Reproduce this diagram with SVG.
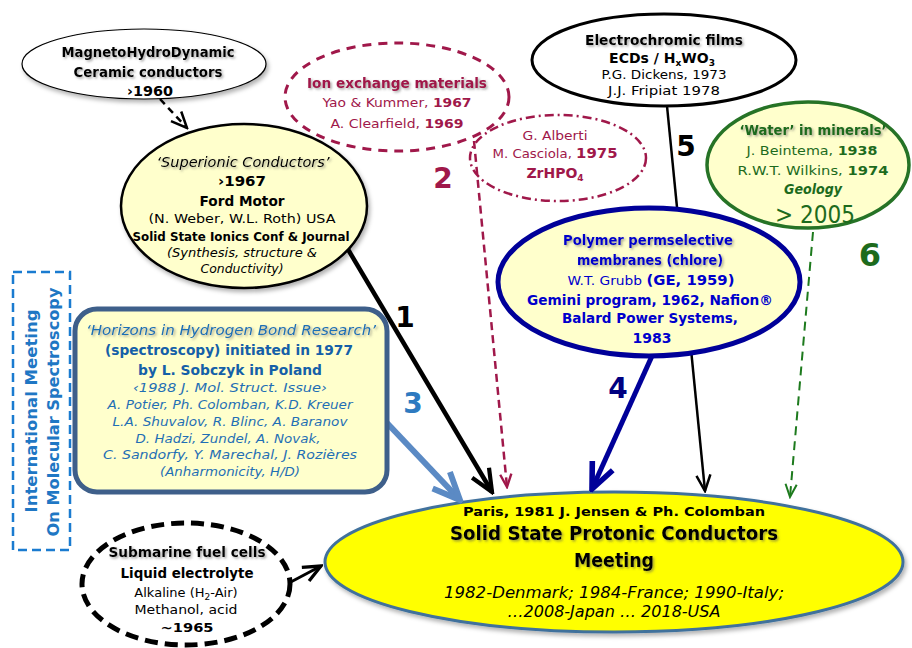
<svg xmlns="http://www.w3.org/2000/svg" width="912" height="648" viewBox="0 0 912 648">
<defs>
<style>
.t{font-family:"DejaVu Sans","Liberation Sans",sans-serif;text-anchor:middle}
.b{font-weight:bold}
.i{font-style:italic}
.sh{filter:url(#ts)}
.k{fill:#000}
.r{fill:#a0184a}
.g{fill:#1d6b1d}
.bl{fill:#0000cc}
.hb{fill:#1f6fb5}
.lbl{font-family:"DejaVu Sans","Liberation Sans",sans-serif;font-weight:bold;text-anchor:middle}
</style>
<filter id="ts" x="-5%" y="-30%" width="115%" height="180%"><feDropShadow dx="1.5" dy="1.5" stdDeviation="1" flood-color="#555" flood-opacity="0.55"/></filter>
<filter id="ds" x="-10%" y="-10%" width="130%" height="140%"><feDropShadow dx="2" dy="3" stdDeviation="2" flood-color="#000" flood-opacity="0.3"/></filter>
<marker id="aK1" viewBox="0 0 20 20" refX="18" refY="10" markerWidth="28" markerHeight="28" markerUnits="userSpaceOnUse" orient="auto"><path d="M2,3 L18,10 L2,17" fill="none" stroke="#000" stroke-width="3"/></marker>
<marker id="aK2" viewBox="0 0 20 20" refX="18" refY="10" markerWidth="20" markerHeight="20" markerUnits="userSpaceOnUse" orient="auto"><path d="M2,3 L18,10 L2,17" fill="none" stroke="#000" stroke-width="2.5"/></marker>
<marker id="aK3" viewBox="0 0 20 20" refX="18" refY="10" markerWidth="22" markerHeight="22" markerUnits="userSpaceOnUse" orient="auto"><path d="M2,3 L18,10 L2,17" fill="none" stroke="#000" stroke-width="3"/></marker>
<marker id="aR" viewBox="0 0 20 20" refX="18" refY="10" markerWidth="16" markerHeight="16" markerUnits="userSpaceOnUse" orient="auto"><path d="M2,3 L18,10 L2,17" fill="none" stroke="#a0184a" stroke-width="3"/></marker>
<marker id="aB" viewBox="0 0 20 20" refX="18" refY="10" markerWidth="32" markerHeight="32" markerUnits="userSpaceOnUse" orient="auto"><path d="M2,3 L18,10 L2,17" fill="none" stroke="#000099" stroke-width="3.5"/></marker>
<marker id="aS" viewBox="0 0 20 20" refX="18" refY="10" markerWidth="34" markerHeight="34" markerUnits="userSpaceOnUse" orient="auto"><path d="M2,3 L18,10 L2,17" fill="none" stroke="#5b8ac4" stroke-width="3.5"/></marker>
<marker id="aG" viewBox="0 0 20 20" refX="18" refY="10" markerWidth="16" markerHeight="16" markerUnits="userSpaceOnUse" orient="auto"><path d="M2,3 L18,10 L2,17" fill="none" stroke="#1d7a1d" stroke-width="2.5"/></marker>
</defs>
<rect width="912" height="648" fill="#fff"/>

<g id="meeting">
<ellipse cx="614" cy="562" rx="289" ry="70" fill="#ffff00" stroke="#41719c" stroke-width="3" filter="url(#ds)"/>
<text class="t b k" x="614" y="516" font-size="13" textLength="302" lengthAdjust="spacingAndGlyphs">Paris, 1981 J. Jensen &amp; Ph. Colomban</text>
<text class="t b k sh" x="614" y="540" font-size="20" textLength="328" lengthAdjust="spacingAndGlyphs">Solid State Protonic Conductors</text>
<text class="t b k sh" x="614" y="567" font-size="20" textLength="80" lengthAdjust="spacingAndGlyphs">Meeting</text>
<text class="t i k" x="614" y="598" font-size="15" textLength="340" lengthAdjust="spacingAndGlyphs">1982-Denmark; 1984-France; 1990-Italy;</text>
<text class="t i k" x="614" y="617" font-size="15" textLength="213" lengthAdjust="spacingAndGlyphs">…2008-Japan … 2018-USA</text>
</g>

<g id="connectors" fill="none">
<line x1="160" y1="99" x2="187" y2="128" stroke="#000" stroke-width="2.5" stroke-dasharray="7 5" marker-end="url(#aK2)"/>
<line x1="346" y1="246" x2="492" y2="492" stroke="#000" stroke-width="4.5" marker-end="url(#aK1)"/>
<line x1="474" y1="141" x2="507" y2="487" stroke="#a0184a" stroke-width="2.5" stroke-dasharray="8 5" marker-end="url(#aR)"/>
<line x1="387" y1="423" x2="460" y2="500" stroke="#5b8ac4" stroke-width="6" marker-end="url(#aS)"/>
<line x1="652" y1="356" x2="592" y2="489" stroke="#000099" stroke-width="5" marker-end="url(#aB)"/>
<line x1="667" y1="106" x2="705" y2="491" stroke="#000" stroke-width="2.5" marker-end="url(#aK2)"/>
<line x1="813" y1="232" x2="790" y2="497" stroke="#1d7a1d" stroke-width="2" stroke-dasharray="9 6" marker-end="url(#aG)"/>
<line x1="287" y1="584" x2="321" y2="566" stroke="#000" stroke-width="3" marker-end="url(#aK3)"/>
</g>

<g id="labels">
<text class="lbl" x="405" y="327" font-size="28" fill="#000">1</text>
<text class="lbl" x="443" y="188" font-size="28" fill="#a0184a">2</text>
<text class="lbl" x="413" y="413" font-size="28" fill="#2e7ac0">3</text>
<text class="lbl" x="618" y="398" font-size="28" fill="#000080">4</text>
<text class="lbl" x="686" y="156" font-size="28" fill="#000">5</text>
<text class="lbl" x="870" y="266" font-size="32" fill="#1d6b1d">6</text>
</g>

<g id="mhd">
<ellipse cx="144" cy="64" rx="122" ry="35" fill="#fff" stroke="#000" stroke-width="1.2" filter="url(#ds)"/>
<text class="t b k sh" x="148" y="57" font-size="14" textLength="173" lengthAdjust="spacingAndGlyphs">MagnetoHydroDynamic</text>
<text class="t b k sh" x="148" y="77" font-size="14" textLength="149" lengthAdjust="spacingAndGlyphs">Ceramic conductors</text>
<text class="t b k" x="150" y="96" font-size="14" textLength="46" lengthAdjust="spacingAndGlyphs">›1960</text>
</g>

<g id="ion-exchange">
<ellipse cx="397" cy="97" rx="112" ry="54" fill="none" stroke="#a0184a" stroke-width="3" stroke-dasharray="9 7"/>
<text class="t b r sh" x="397" y="88" font-size="14" textLength="180" lengthAdjust="spacingAndGlyphs">Ion exchange materials</text>
<text class="t r" x="397" y="107" font-size="13" textLength="149" lengthAdjust="spacingAndGlyphs">Yao &amp; Kummer, <tspan class="b">1967</tspan></text>
<text class="t r" x="397" y="128" font-size="13" textLength="133" lengthAdjust="spacingAndGlyphs">A. Clearfield, <tspan class="b">1969</tspan></text>
</g>

<g id="alberti">
<ellipse cx="558" cy="158" rx="88" ry="43" fill="none" stroke="#a0184a" stroke-width="2.5" stroke-dasharray="9 4 2 4"/>
<text class="t r" x="555" y="140" font-size="12" textLength="65" lengthAdjust="spacingAndGlyphs">G. Alberti</text>
<text class="t r" x="555" y="158" font-size="12.5" textLength="125" lengthAdjust="spacingAndGlyphs">M. Casciola, <tspan class="b" font-size="14">1975</tspan></text>
<text class="t b r" x="555" y="178" font-size="14">ZrHPO<tspan font-size="9" dy="3">4</tspan></text>
</g>

<g id="electrochromic">
<ellipse cx="664" cy="60" rx="132" ry="46" fill="#fff" stroke="#000" stroke-width="3"/>
<text class="t b k sh" x="664" y="45" font-size="14" textLength="158" lengthAdjust="spacingAndGlyphs">Electrochromic films</text>
<text class="t b k" x="662" y="63" font-size="14">ECDs / H<tspan font-size="9" dy="3">x</tspan><tspan dy="-3">WO</tspan><tspan font-size="9" dy="3">3</tspan></text>
<text class="t k" x="664" y="79" font-size="12" textLength="125" lengthAdjust="spacingAndGlyphs">P.G. Dickens, 1973</text>
<text class="t k" x="664" y="95" font-size="12" textLength="112" lengthAdjust="spacingAndGlyphs">J.J. Fripiat 1978</text>
</g>

<g id="water">
<ellipse cx="808" cy="165" rx="101" ry="63" fill="#ffffcc" stroke="#267326" stroke-width="3.5"/>
<text class="t b g sh" x="813" y="135" font-size="14" textLength="147" lengthAdjust="spacingAndGlyphs">‘Water’ in minerals’</text>
<text class="t g" x="812" y="155" font-size="13" textLength="131" lengthAdjust="spacingAndGlyphs">J. Beintema, <tspan class="b">1938</tspan></text>
<text class="t g" x="813" y="175" font-size="12.5" textLength="151" lengthAdjust="spacingAndGlyphs">R.W.T. Wilkins, <tspan class="b">1974</tspan></text>
<text class="t b i g" x="813" y="194" font-size="14" textLength="58" lengthAdjust="spacingAndGlyphs">Geology</text>
<text class="t g" x="815" y="223" font-size="24" textLength="80" lengthAdjust="spacingAndGlyphs">&gt; 2005</text>
</g>

<g id="superionic">
<ellipse cx="244" cy="206" rx="123" ry="82" fill="#ffffcc" stroke="#000" stroke-width="2.5" filter="url(#ds)"/>
<text class="t i k sh" x="243" y="167" font-size="14" textLength="173" lengthAdjust="spacingAndGlyphs">‘Superionic Conductors’</text>
<text class="t b k" x="242" y="186" font-size="14" textLength="48" lengthAdjust="spacingAndGlyphs">›1967</text>
<text class="t b k" x="242" y="206" font-size="14" textLength="85" lengthAdjust="spacingAndGlyphs">Ford Motor</text>
<text class="t k" x="242" y="223" font-size="12.5" textLength="187" lengthAdjust="spacingAndGlyphs">(N. Weber,  W.L. Roth) USA</text>
<text class="t b k" x="241" y="241" font-size="12.5" textLength="217" lengthAdjust="spacingAndGlyphs">Solid State Ionics Conf &amp; Journal</text>
<text class="t i k" x="242" y="257" font-size="12" textLength="150" lengthAdjust="spacingAndGlyphs">(Synthesis, structure &amp;</text>
<text class="t i k" x="242" y="273" font-size="12" textLength="83" lengthAdjust="spacingAndGlyphs">Conductivity)</text>
</g>

<g id="polymer">
<ellipse cx="649" cy="282" rx="151" ry="74" fill="#ffffcc" stroke="#000099" stroke-width="5"/>
<text class="t b bl sh" x="648" y="245" font-size="14" textLength="170" lengthAdjust="spacingAndGlyphs">Polymer permselective</text>
<text class="t b bl sh" x="650" y="265" font-size="14" textLength="146" lengthAdjust="spacingAndGlyphs">membranes (chlore)</text>
<text class="t bl" x="651" y="285" font-size="13" textLength="167" lengthAdjust="spacingAndGlyphs">W.T. Grubb <tspan class="b" font-size="14">(GE, 1959)</tspan></text>
<text class="t b bl" x="650" y="305" font-size="13.5" textLength="246" lengthAdjust="spacingAndGlyphs">Gemini program, 1962, Nafion®</text>
<text class="t b bl" x="650" y="323" font-size="14" textLength="176" lengthAdjust="spacingAndGlyphs">Balard Power Systems,</text>
<text class="t b bl" x="652" y="343" font-size="14" textLength="39" lengthAdjust="spacingAndGlyphs">1983</text>
</g>

<g id="horizons">
<rect x="75" y="309" width="312" height="183" rx="22" ry="22" fill="#ffffcc" stroke="#3e5f8a" stroke-width="5"/>
<text class="t i hb sh" x="231" y="335" font-size="14" textLength="290" lengthAdjust="spacingAndGlyphs">‘Horizons in Hydrogen Bond Research’</text>
<text class="t b" fill="#1560a8" x="229" y="355" font-size="14" textLength="248" lengthAdjust="spacingAndGlyphs">(spectroscopy) initiated in 1977</text>
<text class="t b" fill="#1560a8" x="230" y="375" font-size="14" textLength="184" lengthAdjust="spacingAndGlyphs">by L. Sobczyk in Poland</text>
<text class="t i hb" x="230" y="392" font-size="12.5" textLength="194" lengthAdjust="spacingAndGlyphs">‹1988 J. Mol. Struct. Issue›</text>
<text class="t i hb" x="230" y="409" font-size="12.5" textLength="245" lengthAdjust="spacingAndGlyphs">A.  Potier, Ph. Colomban, K.D. Kreuer</text>
<text class="t i hb" x="230" y="426" font-size="12.5" textLength="235" lengthAdjust="spacingAndGlyphs">L.A. Shuvalov, R. Blinc, A. Baranov</text>
<text class="t i hb" x="228" y="443" font-size="12.5" textLength="185" lengthAdjust="spacingAndGlyphs">D. Hadzi, Zundel, A. Novak,</text>
<text class="t i hb" x="230" y="459" font-size="12.5" textLength="254" lengthAdjust="spacingAndGlyphs">C. Sandorfy, Y. Marechal, J. Rozières</text>
<text class="t i hb" x="230" y="476" font-size="12.5" textLength="140" lengthAdjust="spacingAndGlyphs">(Anharmonicity, H/D)</text>
</g>

<g id="molecular-spectroscopy">
<rect x="13" y="272" width="57" height="278" fill="none" stroke="#1a7bd0" stroke-width="2.5" stroke-dasharray="9 5"/>
<text class="t b" fill="#1f77c4" font-size="15" transform="translate(37,411) rotate(-90)" textLength="203" lengthAdjust="spacingAndGlyphs">International Meeting</text>
<text class="t b" fill="#1f77c4" font-size="15" transform="translate(59,412) rotate(-90)" textLength="249" lengthAdjust="spacingAndGlyphs">On Molecular Spectroscopy</text>
</g>

<g id="submarine">
<ellipse cx="186" cy="584" rx="104" ry="61" fill="#fff" stroke="#000" stroke-width="5" stroke-dasharray="13 7"/>
<text class="t b k sh" x="187" y="557" font-size="13.5" textLength="157" lengthAdjust="spacingAndGlyphs">Submarine fuel cells</text>
<text class="t b k" x="187" y="578" font-size="13.5" textLength="133" lengthAdjust="spacingAndGlyphs">Liquid electrolyte</text>
<text class="t k" x="186" y="597" font-size="13">Alkaline (H<tspan font-size="9" dy="3">2</tspan><tspan dy="-3">-Air)</tspan></text>
<text class="t k" x="186" y="614" font-size="13" textLength="103" lengthAdjust="spacingAndGlyphs">Methanol, acid</text>
<text class="t b k" x="187" y="632" font-size="13" textLength="53" lengthAdjust="spacingAndGlyphs">~1965</text>
</g>
</svg>
